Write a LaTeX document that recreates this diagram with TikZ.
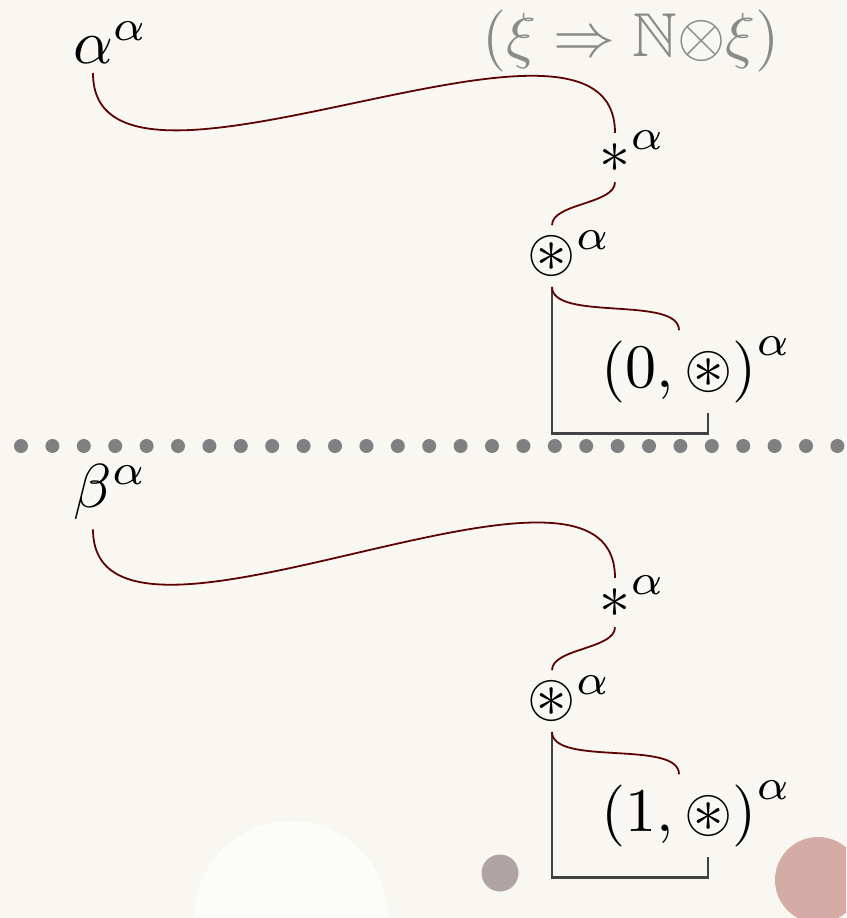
\documentclass[tikz,border=0pt]{standalone}
\usepackage{amsmath}
\usepackage{amssymb}
\usetikzlibrary{calc}

\definecolor{paper}{RGB}{248,247,242}
\definecolor{wirered}{RGB}{92,4,4}
\definecolor{bracketgray}{RGB}{66,66,66}
\definecolor{dotgray}{RGB}{128,128,128}
\definecolor{titlegray}{RGB}{138,138,138}
\definecolor{blobwhite}{RGB}{252,252,249}
\definecolor{blobmauve}{RGB}{176,163,164}
\definecolor{blobpink}{RGB}{212,171,165}

% superscript alpha that takes no room in the node
\newcommand{\withalpha}[2][]{#2\rlap{\smash{${#1}^{\alpha}$}}}

\begin{document}
\begin{tikzpicture}[x=1pt, y=-1pt,
    term/.style={scale=6.2, inner sep=1.45pt, anchor=base},
    wire/.style={wirered, line width=1.8pt},
    pairline/.style={bracketgray, line width=2.6pt}]

    \useasboundingbox (0,0) rectangle (846,918);
    \clip (0,0) rectangle (846,918);
    \fill[paper] (0,0) rectangle (846,918);

    \fill[blobwhite] (291,918) circle (97pt);
    \fill[blobmauve] (500,873) circle (18.5pt);
    \fill[blobpink] (818,880) circle (43pt);

    \foreach \i in {0,...,26}
      \fill[dotgray] (21+31.4*\i, 446) circle (7pt);

    \node[term, titlegray] (ty) at (631,56.5) {$(\xi\Rightarrow\mathbb{N}{\otimes}\xi)$};

    \node[term] (a1) at (93,63) {$\withalpha{\alpha}$};
    \node[term] (s1) at (615,172) {$\withalpha{\ast}$};
    \node[term] (c1) at (552,271.5) {$\withalpha{\circledast}$};
    \node[term] (p1) at (679,387) {$\withalpha[\vphantom{(}]{(0,\circledast)}$};

    \draw[pairline] (c1.south) |- ($(p1.south)+(29,21)$) -- +(0,-21);
    \draw[wire] (a1.south) .. controls +(0,170) and +(0,-170) .. (s1.north);
    \draw[wire] (s1.south) .. controls +(0,22) and +(0,-22) .. (c1.north);
    \draw[wire] (c1.south) .. controls +(0,35) and +(0,-35) .. (p1.north);

    \node[term] (b1) at (93,507) {$\withalpha{\beta}$};
    \node[term] (s2) at (615,617) {$\withalpha{\ast}$};
    \node[term] (c2) at (552,716.5) {$\withalpha{\circledast}$};
    \node[term] (p2) at (679,831) {$\withalpha[\vphantom{(}]{(1,\circledast)}$};

    \draw[pairline] (c2.south) |- ($(p2.south)+(29,21)$) -- +(0,-21);
    \draw[wire] (b1.south) .. controls +(0,170) and +(0,-170) .. (s2.north);
    \draw[wire] (s2.south) .. controls +(0,22) and +(0,-22) .. (c2.north);
    \draw[wire] (c2.south) .. controls +(0,35) and +(0,-35) .. (p2.north);

\end{tikzpicture}
\end{document}
